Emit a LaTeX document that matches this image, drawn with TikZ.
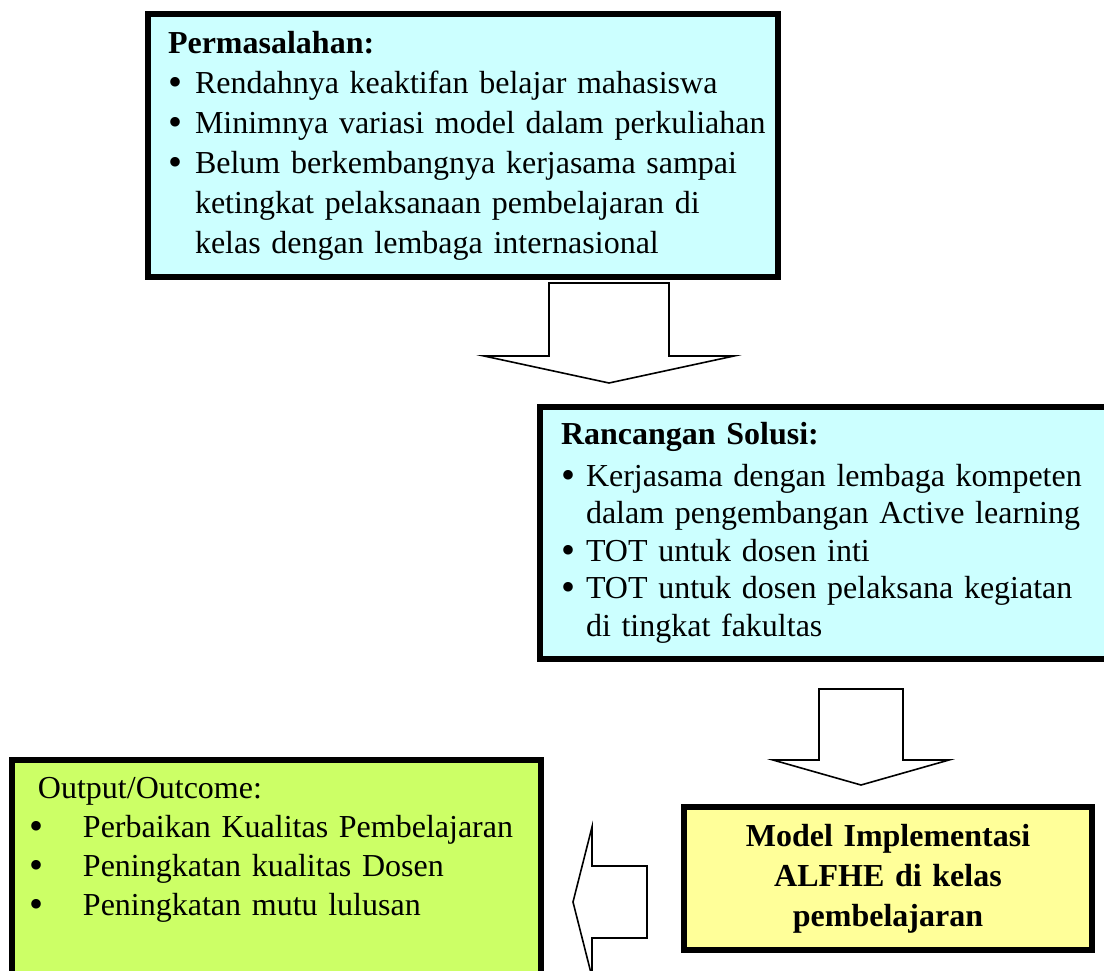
\documentclass[tikz,border=0pt]{standalone}
\usepackage{fontspec}
\setmainfont{Liberation Serif}
\usetikzlibrary{calc}

\definecolor{boxcyan}{HTML}{CCFFFF}
\definecolor{boxyellow}{HTML}{FFFF99}
\definecolor{boxgreen}{HTML}{CCFF66}

\newcommand{\bulletmark}{\raisebox{-2pt}{\fontsize{40}{40}\selectfont\textbullet}}

\tikzset{
  infobox/.style={draw=black, line width=6pt, inner ysep=0pt, anchor=north west, align=left},
  arrowline/.style={draw=black, fill=white, line width=1.6pt, line join=miter},
  % hollow block arrow: shaft half width, head half width, shaft length, head length
  pics/fatarrow/.style n args={4}{code={
    \draw[arrowline] (0,-#1) -- (#3,-#1) -- (#3,-#2) -- ({#3+#4},0) -- (#3,#2) -- (#3,#1) -- (0,#1) -- cycle;
  }},
}

\begin{document}
\begin{tikzpicture}[x=1pt,y=-1pt]
    \useasboundingbox (0,0) rectangle (1104,971);

    % Problem box
    \node[infobox, fill=boxcyan, inner xsep=20pt, text width=590pt, minimum height=263pt,
          font=\fontsize{32}{40}\selectfont] (perm) at (145,11) {%
    \begin{tabular}{@{}l@{\hspace{13pt}}l@{}}
      \multicolumn{2}{@{}l}{\textbf{Permasalahan:}}\\
      \bulletmark & Rendahnya keaktifan belajar mahasiswa\\
      \bulletmark & Minimnya variasi model dalam perkuliahan\\
      \bulletmark & Belum berkembangnya kerjasama sampai\\
                  & ketingkat pelaksanaan pembelajaran di\\
                  & kelas dengan lembaga internasional
    \end{tabular}};

    % Solution box
    \node[infobox, fill=boxcyan, inner xsep=21pt, text width=528pt, minimum height=252pt,
          font=\fontsize{32}{37.5}\selectfont] (sol) at (537,404) {%
    \begin{tabular}{@{}l@{\hspace{11pt}}l@{}}
      \multicolumn{2}{@{}l}{\textbf{Rancangan Solusi:}}\\[4pt]
      \bulletmark & Kerjasama dengan lembaga kompeten\\
                  & dalam pengembangan Active learning\\
      \bulletmark & TOT untuk dosen inti\\
      \bulletmark & TOT untuk dosen pelaksana kegiatan\\
                  & di tingkat fakultas
    \end{tabular}};

    % Model box
    \node[infobox, fill=boxyellow, align=center, inner xsep=10pt, text width=388pt, minimum height=143pt,
          font=\fontsize{32}{40}\selectfont\bfseries] (model) at (681,804)
          {Model Implementasi\\ALFHE di kelas\\pembelajaran};

    % Output box
    \node[infobox, fill=boxgreen, inner xsep=17pt, text width=495pt, minimum height=218pt,
          font=\fontsize{32}{39}\selectfont] (out) at (9,757) {%
    \begin{tabular}{@{}p{54pt}@{}l@{}}
      \multicolumn{2}{@{\hspace{9pt}}l}{Output/Outcome:}\\
      \bulletmark & Perbaikan Kualitas Pembelajaran\\
      \bulletmark & Peningkatan kualitas Dosen\\
      \bulletmark & Peningkatan mutu lulusan\\
                  &
    \end{tabular}};

    % Block arrows between the boxes
    \coordinate (a1) at ($(perm.south west)+(464,3)$);
    \coordinate (a2) at ($(sol.south west)+(324,27)$);
    \coordinate (a3) at ($(model.west)+(-34,23.5)$);
    \pic[rotate=-90] at (a1) {fatarrow={60}{125}{73}{27}};
    \pic[rotate=-90] at (a2) {fatarrow={42}{88}{71}{25}};
    \pic[rotate=180] at (a3) {fatarrow={36}{75}{55}{19}};

\end{tikzpicture}
\end{document}
